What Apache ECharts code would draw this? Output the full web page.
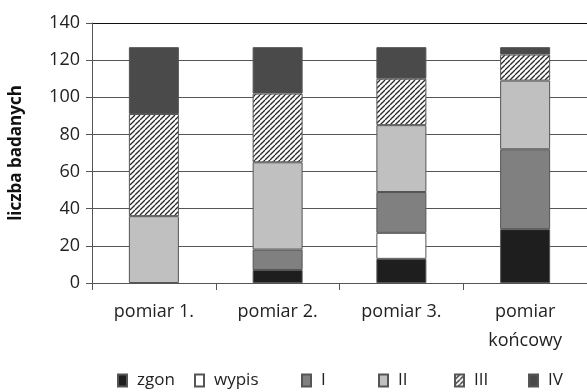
<!DOCTYPE html>
<html>
<head>
<meta charset="utf-8">
<script src="https://cdn.jsdelivr.net/npm/echarts@6/dist/echarts.min.js"></script>
<style>
  html, body { margin: 0; padding: 0; background: #fff; }
  #chart { width: 587px; height: 392px; }
</style>
</head>
<body>
<div id="chart"></div>
<script>
// kategorie (oś X)
var categories = ['pomiar 1.', 'pomiar 2.', 'pomiar 3.', 'pomiar\nkońcowy']

// wartości serii
var zgon = [0, 7, 13, 29]
var wypis = [0, 0, 14, 0]
var stI = [0, 11, 22, 43]
var stII = [36, 47, 36, 37]
var stIII = [55, 37, 25, 14]
var stIV = [36, 25, 17, 4]

var yTicks = [0, 20, 40, 60, 80, 100, 120, 140]

// kreskowanie dla III
function makeHatch () {
    var c = document.createElement('canvas')
    c.width = 5
    c.height = 5
    var ctx = c.getContext('2d')
    ctx.fillStyle = '#fff'
    ctx.fillRect(0, 0, 5, 5)
    ctx.strokeStyle = '#2a2a2a'
    ctx.lineWidth = 1.3
    for (var k = -1; k <= 1; k++) {
        ctx.beginPath()
        ctx.moveTo(k * 5, 5)
        ctx.lineTo(k * 5 + 5, 0)
        ctx.stroke()
    }
    return c
}

var font = '"Open Sans", sans-serif'
var names = ['zgon', 'wypis', 'I', 'II', 'III', 'IV']
var values = [zgon, wypis, stI, stII, stIII, stIV]
var colors = ['#1e1e1e', '#ffffff', '#808080', '#c0c0c0', {image: makeHatch(), repeat: 'repeat'}, '#4a4a4a']
var legendLeft = [117, 194, 301, 378, 454, 528]

var series = names.map(function (n, i) {
    return {
        name: n,
        type: 'bar',
        stack: 'all',
        barWidth: 50,
        itemStyle: {color: colors[i], borderColor: '#555', borderWidth: 1},
        data: values[i].map(function (v) { return v === 0 ? '-' : v })
    }
})

var legends = names.map(function (n, i) {
    return {
        data: [n],
        left: legendLeft[i],
        top: 372,
        padding: 0,
        itemWidth: 9,
        itemHeight: 12,
        icon: 'rect',
        textStyle: {fontFamily: font, fontSize: 17, color: '#222', padding: [0, 0, 0, 5]}
    }
})

var option = {
    animation: false,
    backgroundColor: '#fff',
    grid: {left: 92, right: 0, top: 23, bottom: 109},
    legend: legends,
    xAxis: {
        type: 'category',
        data: categories,
        axisLine: {lineStyle: {color: '#555', width: 1}},
        axisTick: {show: true, length: 7, lineStyle: {color: '#555'}},
        axisLabel: {fontFamily: font, fontSize: 18, color: '#222', margin: 14, lineHeight: 29}
    },
    yAxis: {
        type: 'value',
        min: 0,
        max: 140,
        interval: 20,
        name: 'liczba badanych',
        nameLocation: 'middle',
        nameGap: 67,
        nameTextStyle: {fontFamily: font, fontSize: 17, fontWeight: 'bold', color: '#111'},
        axisLine: {show: true, lineStyle: {color: '#555'}},
        axisTick: {show: true, length: 6, lineStyle: {color: '#555'}},
        axisLabel: {fontFamily: font, fontSize: 18, color: '#222', margin: 12,
            formatter: function (v) { return yTicks.indexOf(v) >= 0 ? String(v) : '' }},
        splitLine: {lineStyle: {color: ['#555', '#555', '#555', '#555', '#555', '#555', '#555', '#111'], width: 1}}
    },
    series: series
}

var myChart = echarts.init(document.getElementById('chart'))
myChart.setOption(option)
</script>
</body>
</html>
